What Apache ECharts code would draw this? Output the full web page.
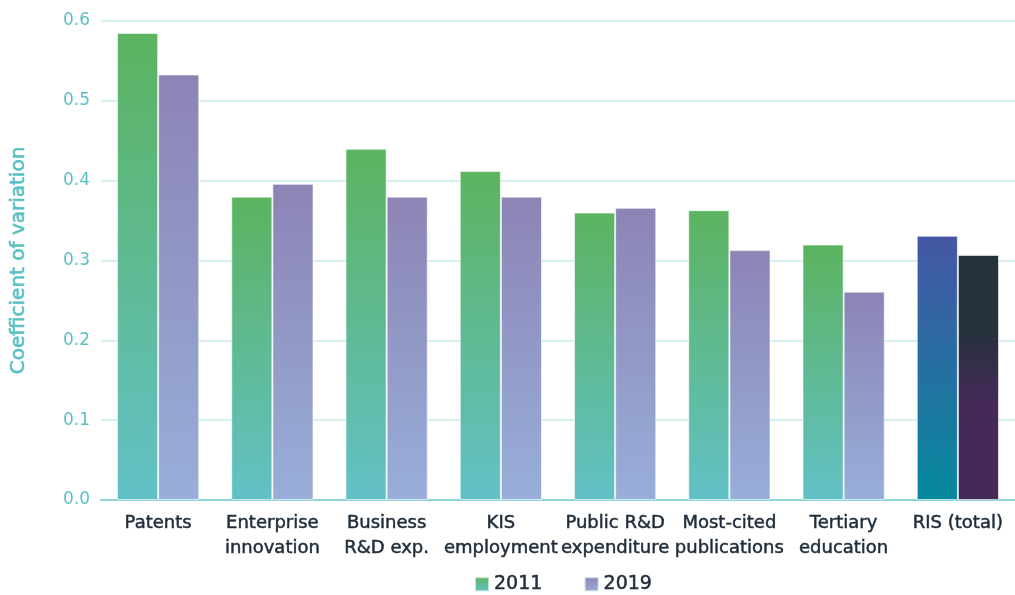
<!DOCTYPE html>
<html><head><meta charset="utf-8">
<script src="https://cdn.jsdelivr.net/npm/echarts@6/dist/echarts.min.js"></script>
<style>html,body{margin:0;padding:0;background:#fff}#c{width:1015px;height:595px}</style>
</head><body><div id="c"></div>
<script>
const categories = ['Patents','Enterprise\ninnovation','Business\nR&D exp.','KIS\nemployment','Public R&D\nexpenditure','Most-cited\npublications','Tertiary\neducation','RIS (total)'];
const values2011 = [0.585,0.380,0.440,0.412,0.360,0.363,0.320,0.331];
const values2019 = [0.533,0.396,0.380,0.380,0.366,0.313,0.261,0.307];
const yTicks = {min:0, max:0.6, interval:0.1};

const grad = (top, bottom) => new echarts.graphic.LinearGradient(0,0,0,1,[{offset:0,color:top},{offset:1,color:bottom}]);
const g2011 = grad('#5cb35f','#62c1c7');
const g2019 = grad('#8c84b4','#98aed9');
const risG2011 = grad('#4656a4','#05899e');
const risG2019 = new echarts.graphic.LinearGradient(0,0,0,1,[{offset:0,color:'#24323b'},{offset:0.3,color:'#25313c'},{offset:0.6,color:'#442a57'},{offset:1,color:'#442a57'}]);

const mk = (vals, special) => vals.map((v,i)=> i===vals.length-1 ? {value:v, itemStyle:{color:special}} : v);

const F = 'DejaVu Sans';
const DARK = '#1f2d3a', TEAL = '#5bc0c4';
const chart = echarts.init(document.getElementById('c'));
chart.setOption({
  animation:false,
  grid:{left:101,right:0,top:21,bottom:95,containLabel:false,outerBoundsMode:'none'},
  legend:{bottom:-4,left:469,itemWidth:14,itemHeight:14,itemGap:41,icon:'rect',
    textStyle:{fontFamily:F,fontSize:19,color:DARK,textBorderColor:DARK,textBorderWidth:0.5},
    data:['2011','2019']},
  xAxis:{type:'category',data:categories,
    axisLine:{show:true,lineStyle:{color:'#8fd4d5',width:2}},
    axisTick:{show:false},
    axisLabel:{interval:0,margin:11,fontFamily:F,fontSize:18,color:DARK,lineHeight:25,textBorderColor:DARK,textBorderWidth:0.5}},
  yAxis:{type:'value',min:yTicks.min,max:yTicks.max,interval:yTicks.interval,
    name:'Coefficient of variation',nameLocation:'middle',nameGap:72,
    nameTextStyle:{fontFamily:F,fontSize:20,color:TEAL,textBorderColor:TEAL,textBorderWidth:0.6},
    axisLine:{show:false},axisTick:{show:false},
    axisLabel:{margin:11,fontFamily:F,fontSize:17,color:TEAL,formatter:v=>v.toFixed(1)},
    splitLine:{lineStyle:{color:'#d6efef',width:2}}},
  series:[
    {name:'2011',type:'bar',data:mk(values2011,risG2011),barGap:'0%',barCategoryGap:'28%',
     itemStyle:{color:g2011,borderColor:'rgba(255,255,255,0.6)',borderWidth:1}},
    {name:'2019',type:'bar',data:mk(values2019,risG2019),
     itemStyle:{color:g2019,borderColor:'rgba(255,255,255,0.6)',borderWidth:1}}
  ]
});
</script></body></html>
